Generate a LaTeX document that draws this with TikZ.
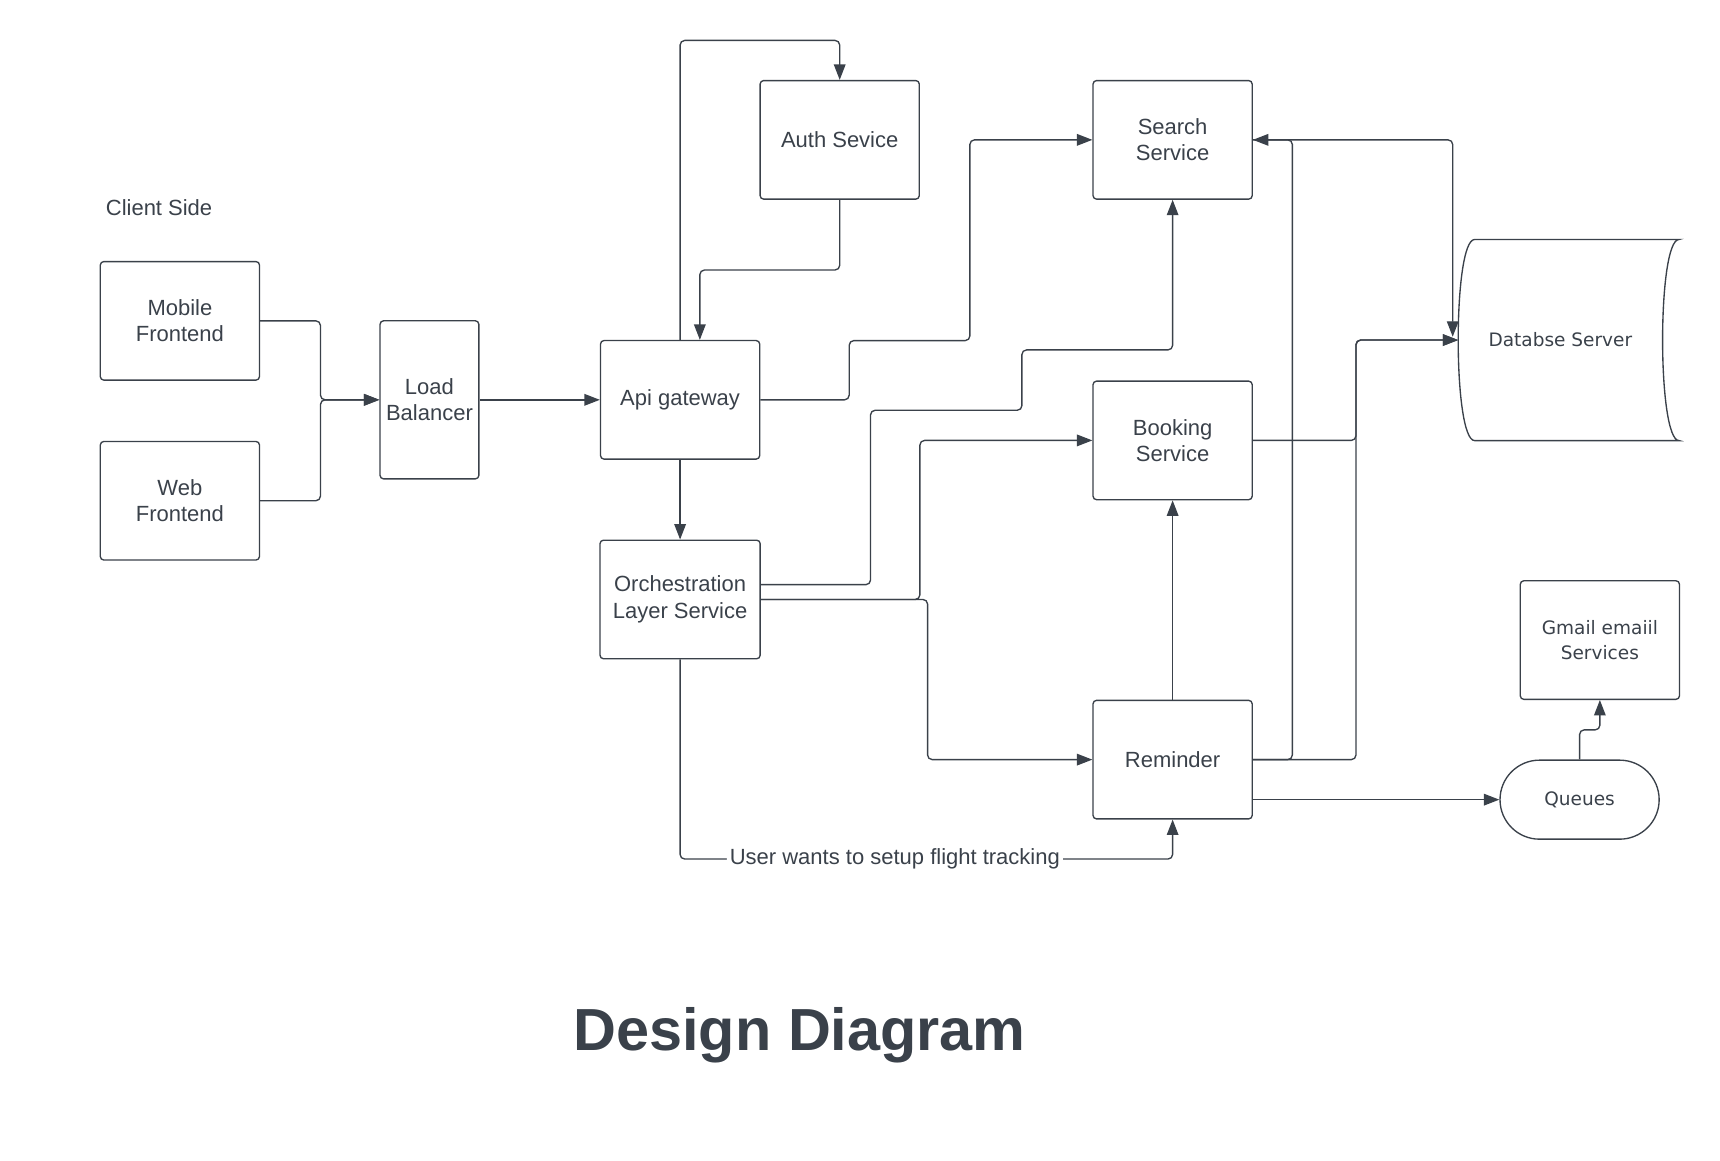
\documentclass[tikz,border=0pt]{standalone}
\usepackage{fontspec}
\setmainfont{Liberation Sans}
\newfontfamily\dbfont{DejaVu Sans}
\usetikzlibrary{arrows.meta,calc}
\definecolor{ink}{RGB}{58,65,74}

\begin{document}
\begin{tikzpicture}[x=0.01cm, y=-0.01cm, line width=0.35pt, color=ink,
    >={Triangle[length=4pt,width=3pt]},
    svc/.style={shape=rectangle, draw=ink, rounded corners=0.9pt, minimum width=1.45cm, minimum height=1.08cm, align=center, font=\fontsize{5.7}{6.85}\selectfont},
    side/.style={align=center, font=\dbfont\fontsize{4.8}{6.3}\selectfont},
    wire/.style={->, rounded corners=1.2pt}]
    \useasboundingbox (0,0) rectangle (1568,1058);

    \node[font=\fontsize{5.7}{6.85}\selectfont] at (145,189) (CS) {Client Side};
    \node[svc] at (164,292.5) (MF) {Mobile\\Frontend};
    \node[svc] at (164,456.5) (WF) {Web\\Frontend};
    \node[svc, inner xsep=1pt, minimum width=0.9cm, minimum height=1.44cm] at (391.5,364.5) (LB) {Load\\Balancer};
    \node[svc] at (620,364.5) (AG) {Api gateway};
    \node[svc] at (765.5,127.5) (AS) {Auth Sevice};
    \node[svc] at (620,546.5) (OL) {Orchestration\\Layer Service};
    \node[svc] at (1069,127.5) (SS) {Search\\Service};
    \node[svc] at (1069,401.5) (BS) {Booking\\Service};
    \node[svc] at (1069,692.5) (RM) {Reminder};
    \node[side, minimum width=1.85cm, minimum height=1.82cm] at (1422.5,310) (DB) {Databse Server};
    \node[svc, side] at (1458.5,583.5) (GM) {Gmail emaiil\\Services};
    \node[svc, side, rounded corners=0.36cm, minimum height=0.72cm] at (1440,729) (QU) {Queues};
    \node[font=\fontsize{15.4}{18}\selectfont\bfseries] at (729,944) (TT) {Design Diagram};

    % database outline
    \draw ($(DB.north west)+(15,0)$) -- ($(DB.north east)+(15,0)$)
        .. controls ($(DB.north east)+(-5,0)$) and ($(DB.south east)+(-5,0)$) .. ($(DB.south east)+(15,0)$)
        -- ($(DB.south west)+(15,0)$)
        .. controls ($(DB.south west)+(-5,0)$) and ($(DB.north west)+(-5,0)$) .. cycle;

    % client side
    \draw [wire] (MF.east) -- ++(55,0) |- (LB.west);
    \draw [wire] (WF.east) -- ++(55,0) |- (LB.west);
    \draw [wire] (LB) -- (AG);

    % gateway and auth
    \draw [wire] (AG.north) -- ++(0,-273) -| (AS.north);
    \draw [wire] (AS.south) -- ++(0,64) -| ($(AG.north)+(18,0)$);
    \draw [wire] (AG) -- (OL);
    \draw [wire] (AG.east) -- ++(81,0) -- ++(0,-54) -- ++(110,0) |- (SS.west);

    % orchestration
    \draw [wire] ($(OL.east)+(0,-13.5)$) -- ++(100,0) -- ++(0,-159) -- ++(138,0) -- ++(0,-55) -| (SS.south);
    \draw [wire] (OL.east) -- ++(145,0) |- (BS.west);
    \draw [wire] (OL.east) -- ++(152,0) |- (RM.west);
    \draw [wire] (OL.south) -- ++(0,182) -| (RM.south)
        node[pos=0.218, fill=white, inner sep=0.8pt, font=\fontsize{5.7}{6.85}\selectfont] {User wants to setup flight tracking};

    % reminder and storage
    \draw [wire] (RM) -- (BS);
    \draw [wire] (RM.east) -- ++(36,0) |- (SS.east);
    \draw [wire] (SS.east) -| ($(DB.west)+(-5,-3)$);
    \draw [wire] (BS.east) -- ++(94,0) |- (DB.west);
    \draw [wire] (RM.east) -- ++(94,0) |- (DB.west);
    \draw [wire] ($(RM.east)+(0,36.5)$) -- (QU.west);
    \draw [wire] (QU.north) -- ++(0,-27) -| (GM.south);
\end{tikzpicture}
\end{document}
